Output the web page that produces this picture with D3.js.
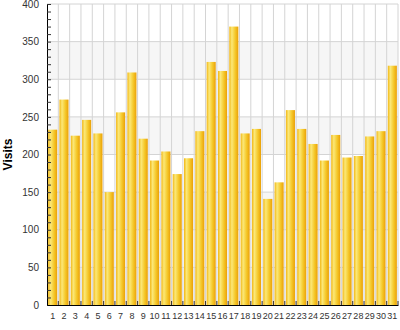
<!DOCTYPE html>
<html>
<head>
<meta charset="utf-8">
<script src="https://cdn.jsdelivr.net/npm/d3@7"></script>
<style>
  body { margin: 0; background: #fff; }
  text { font-family: "Liberation Sans", Arial, sans-serif; }
</style>
</head>
<body>
<div id="chart"></div>
<script>
// day of month and visits per day
var days = d3.range(1, 32);
var visits = [233, 273, 225, 246, 228, 150, 256, 309, 221, 192, 204, 174, 195, 231, 323,
              311, 370, 228, 234, 141, 163, 259, 234, 214, 192, 226, 196, 198, 224, 231, 318];
var yTicks = [0, 50, 100, 150, 200, 250, 300, 350, 400];

var margin = {top: 4, right: 2, bottom: 25, left: 47},
    width = 400 - margin.left - margin.right,
    height = 330 - margin.top - margin.bottom;

var svg = d3.select("#chart")
  .append("svg")
    .attr("width", 400)
    .attr("height", 330)
  .append("g")
    .attr("transform", "translate(" + margin.left + "," + margin.top + ")");

var x = d3.scaleBand()
  .domain(days)
  .range([0, width])
  .paddingInner(0.2)
  .paddingOuter(0.1);

var y = d3.scaleLinear()
  .domain([0, 400])
  .range([height, 0]);

// bar gradient
var grad = svg.append("defs").append("linearGradient")
    .attr("id", "barGrad")
    .attr("x1", "0%").attr("x2", "100%")
    .attr("y1", "0%").attr("y2", "0%");
grad.append("stop").attr("offset", "0%").attr("stop-color", "#f2b714");
grad.append("stop").attr("offset", "28%").attr("stop-color", "#fbe878");
grad.append("stop").attr("offset", "65%").attr("stop-color", "#f5c82a");
grad.append("stop").attr("offset", "100%").attr("stop-color", "#eaa008");

// alternating background bands
svg.selectAll(".band")
  .data(yTicks.slice(0, -1))
  .enter()
  .append("rect")
    .attr("x", 0)
    .attr("y", function(d) { return y(d + 50); })
    .attr("width", width)
    .attr("height", function(d) { return y(d) - y(d + 50); })
    .attr("fill", function(d, i) { return i % 2 == 0 ? "#f6f6f6" : "#ffffff"; });

// horizontal grid
svg.selectAll(".hgrid")
  .data(yTicks.slice(1))
  .enter()
  .append("line")
    .attr("x1", 0).attr("x2", width)
    .attr("y1", function(d) { return y(d); })
    .attr("y2", function(d) { return y(d); })
    .attr("stroke", "#d4d4d4");

// vertical grid at band edges
var step = x.step();
var edges = days.map(function(d) { return x(d) - x.paddingInner() * step / 2 + step; });
svg.selectAll(".vgrid")
  .data(edges)
  .enter()
  .append("line")
    .attr("x1", function(d) { return d; })
    .attr("x2", function(d) { return d; })
    .attr("y1", 0).attr("y2", height)
    .attr("stroke", "#d4d4d4");

// bars
svg.selectAll(".bar")
  .data(visits)
  .enter()
  .append("rect")
    .attr("x", function(d, i) { return x(days[i]); })
    .attr("y", function(d) { return y(d); })
    .attr("width", x.bandwidth())
    .attr("height", function(d) { return height - y(d); })
    .attr("fill", "url(#barGrad)");

// y axis with minor ticks
var yAxis = svg.append("g")
  .call(d3.axisLeft(y).tickValues(yTicks).tickSize(0).tickPadding(8));
yAxis.select(".domain").attr("stroke", "#000");
yAxis.selectAll("text").attr("font-size", 10).attr("fill", "#333");
svg.append("g")
  .call(d3.axisRight(y).ticks(40).tickSize(4).tickFormat(""))
  .call(function(g) { g.select(".domain").remove(); })
  .selectAll("line").attr("stroke", "#333");

// x axis
var xAxis = svg.append("g")
  .attr("transform", "translate(0," + height + ")")
  .call(d3.axisBottom(x).tickSize(0).tickPadding(8));
xAxis.select(".domain").attr("stroke", "#000");
xAxis.selectAll("text").attr("font-size", 9).attr("fill", "#333");
svg.append("g")
  .selectAll("line")
  .data(edges)
  .enter()
  .append("line")
    .attr("x1", function(d) { return d; })
    .attr("x2", function(d) { return d; })
    .attr("y1", height).attr("y2", height - 4)
    .attr("stroke", "#333");

// y label
svg.append("text")
  .attr("transform", "translate(" + (12 - margin.left) + "," + (height / 2) + ")rotate(-90)")
  .attr("text-anchor", "middle")
  .attr("font-weight", "bold")
  .attr("font-size", 12)
  .text("Visits");
</script>
</body>
</html>
